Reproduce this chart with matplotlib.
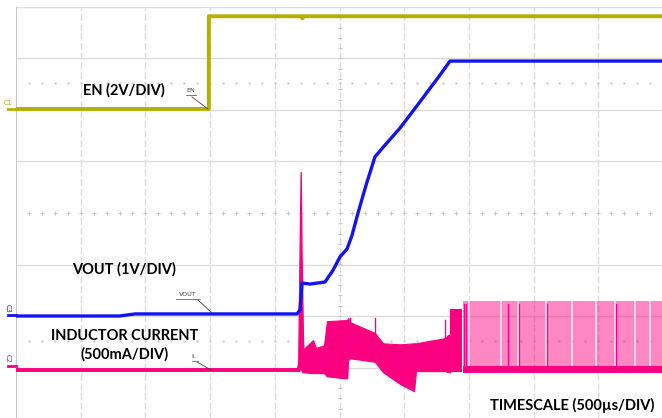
import matplotlib
matplotlib.use('Agg')
import matplotlib.pyplot as plt
import numpy as np

# ---------------- data (time in microseconds, 500 us/div) ----------------
en_t = [0, 1490, 1490, 2208, 2214, 2220, 5000]
en_v = [0.0, 0.0, 3.6, 3.6, 3.52, 3.6, 3.6]            # volts, 2 V/div

vout_t = [0, 800, 920, 2172, 2195, 2210, 2272, 2388, 2450, 2504, 2558,
          2597, 2643, 2705, 2774, 2852, 2968, 3122, 3277, 3354, 5000]
vout_v = [-0.02, -0.02, 0.02, 0.02, 0.10, 0.62, 0.60, 0.64, 0.87, 1.13, 1.28,
          1.55, 1.98, 2.52, 3.07, 3.30, 3.63, 4.14, 4.66, 4.93, 4.93]  # volts, 1 V/div

il_base_t = [0, 2180]
il_base = [0, 0]                                          # mA, 500 mA/div
il_spike_t = [2172, 2185, 2196, 2204, 2210, 2222, 2232]
il_spike = [0, 60, 1180, 1920, 1150, 250, 0]

il_env_t = [2210, 2295, 2318, 2380, 2403, 2543, 2560, 2566, 2581, 2774, 2836,
            2968, 3076, 3091, 3315, 3338, 3354]
il_env_top = [190, 290, 215, 240, 475, 485, 485, 505, 465, 360, 260,
              250, 260, 260, 310, 340, 340]
il_env_bot = [-20, -30, -30, -30, -60, -80, -80, 95, 115, 80, -20,
              -135, -205, -10, -10, -20, -20]

il_spk2_t = [2581, 2774, 3315]
il_spk2 = [510, 510, 485]

il_block_t = [3354, 3450]
il_block_top = [590, 590]
il_block_bot = [-20, -20]

il_sw_t = [3454, 5000]
il_sw_top = [670, 670]
il_sw_bot = [20, 20]

il_gap_t = [3500, 3748, 3879, 4096, 4297, 4482, 4629, 4783, 4899]
il_pulse_t = [3462, 3475, 3805, 3890, 4105, 4640]

# channel offsets (divisions) and scales (units per division)
EN_POS, EN_SCALE = 2.02, 2.0
VO_POS, VO_SCALE = -1.98, 1.0
IL_POS, IL_SCALE = -3.05, 500.0

YEL = '#B5AF00'
BLU = '#1414F0'
PNK = '#FA0080'
GRID = '#DCDCDC'

fig = plt.figure(figsize=(6.62, 4.18), dpi=100)
ax = fig.add_axes([16/662, -1/418, 647/662, 412/418])
ax.set_xlim(0, 5000)
ax.set_ylim(-4, 4)
ax.axis('off')

# ---------------- graticule ----------------
for y in [-3, -2, -1, 1, 2, 3, 4]:
    ax.axhline(y, color=GRID, lw=1.0, zorder=0)
for x in [500, 1000, 1500, 2000, 3000, 3500, 4000, 4500]:
    ax.axvline(x, color=GRID, lw=1.0, ls=(0, (5, 2)), zorder=0)
ax.axvline(2500, color=GRID, lw=1.0, ls=(0, (5, 2)), zorder=0)
ax.axvline(0, color='#C4C4C4', lw=1.3, zorder=0)
tx = np.arange(100, 5000, 100)
ax.plot(tx, np.zeros_like(tx), ls='none', marker='+', ms=3.2, mew=0.7, color='#C6C6C6', zorder=0)
for yy in [2.52, -2.49]:
    ax.plot(tx, np.full_like(tx, yy, dtype=float), ls='none', marker='.', ms=1.4, color='#CDCDCD', zorder=0)
ty = np.arange(-3.8, 4.0, 0.2)
ax.plot(np.full_like(ty, 2500), ty, ls='none', marker='_', ms=3.2, mew=0.7, color='#C6C6C6', zorder=0)

def ydiv(vals, pos, scale):
    return np.asarray(vals, dtype=float) / scale + pos

# ---------------- inductor current ----------------
ax.fill_between(il_sw_t, ydiv(il_sw_bot, IL_POS, IL_SCALE), ydiv(il_sw_top, IL_POS, IL_SCALE),
                color=PNK, alpha=0.47, lw=0, zorder=2)
for g in il_gap_t:
    ax.plot([g, g], ydiv([40, 670], IL_POS, IL_SCALE), color='white', lw=1.1, alpha=0.85, zorder=3)
for p in il_pulse_t:
    ax.plot([p, p], ydiv([0, 640], IL_POS, IL_SCALE), color=PNK, lw=0.9, zorder=3)
ax.fill_between(il_sw_t, ydiv([-25, -25], IL_POS, IL_SCALE), ydiv([35, 35], IL_POS, IL_SCALE),
                color=PNK, lw=0, zorder=3)
ax.fill_between(il_block_t, ydiv(il_block_bot, IL_POS, IL_SCALE), ydiv(il_block_top, IL_POS, IL_SCALE),
                color=PNK, lw=0, zorder=3)
ax.fill_between(il_env_t, ydiv(il_env_bot, IL_POS, IL_SCALE), ydiv(il_env_top, IL_POS, IL_SCALE),
                color=PNK, lw=0.8, edgecolor=PNK, zorder=3)
for t, v in zip(il_spk2_t, il_spk2):
    ax.plot([t, t], ydiv([200, v], IL_POS, IL_SCALE), color=PNK, lw=1.0, zorder=3)
ax.fill(il_spike_t, ydiv(il_spike, IL_POS, IL_SCALE), color=PNK, lw=1.0, edgecolor=PNK, zorder=3)
ax.plot(il_base_t, ydiv(il_base, IL_POS, IL_SCALE), color=PNK, lw=2.8, zorder=3)

# ---------------- VOUT ----------------
ax.plot(vout_t, ydiv(vout_v, VO_POS, VO_SCALE), color=BLU, lw=2.4, zorder=4, solid_joinstyle='round')

# ---------------- EN ----------------
ax.plot(en_t, ydiv(en_v, EN_POS, EN_SCALE), color=YEL, lw=2.8, zorder=4)

# ---------------- annotations (pixel overlay) ----------------
ov = fig.add_axes([0, 0, 1, 1])
ov.set_xlim(0, 662)
ov.set_ylim(418, 0)
ov.axis('off')
ov.patch.set_alpha(0)

bold = dict(family=['Lato', 'DejaVu Sans'], weight='bold', color='black', fontsize=10.5)
ov.text(124, 90, 'EN (2V/DIV)', ha='center', va='center', **bold)
ov.text(124, 269, 'VOUT (1V/DIV)', ha='center', va='center', **bold)
ov.text(125, 336, 'INDUCTOR CURRENT', ha='center', va='center', **bold)
ov.text(125, 354, '(500mA/DIV)', ha='center', va='center', **bold)
ov.text(572, 405, 'TIMESCALE (500\u00b5s/DIV)', ha='center', va='center', **bold)

small = dict(family=['DejaVu Sans'], color='#404040', fontsize=4.6, ha='center', va='center')
ov.text(191, 91, 'EN', **small)
ov.plot([186, 196], [95, 95], color='#404040', lw=0.5)
ov.plot([192, 208], [97, 109], color='#404040', lw=0.6)
ov.text(188, 295, 'VOUT', **small)
ov.plot([176, 200], [299, 299], color='#404040', lw=0.5)
ov.plot([198, 212], [300, 313], color='#404040', lw=0.6)
ov.text(194, 357, 'I$_\\mathregular{L}$', **small)
ov.plot([192, 198], [361, 361], color='#404040', lw=0.5)
ov.plot([197, 211], [362, 370], color='#404040', lw=0.6)

# channel markers
ov.text(8, 103, 'C1', color=YEL, fontsize=4.8, ha='center', va='center', family='DejaVu Sans')
ov.plot([8, 16], [108.5, 108.5], color=YEL, lw=2.0)
ov.text(8, 308, 'C3', color=BLU, fontsize=4.8, ha='center', va='center', rotation=-90, family='DejaVu Sans')
ov.plot([8, 16], [315, 315], color=BLU, lw=2.0)
ov.text(8, 358, 'C2', color=PNK, fontsize=4.8, ha='center', va='center', rotation=-90, family='DejaVu Sans')
ov.plot([8, 16], [366, 366], color=PNK, lw=2.0)

fig.savefig('out.png', dpi=100, facecolor='white')
